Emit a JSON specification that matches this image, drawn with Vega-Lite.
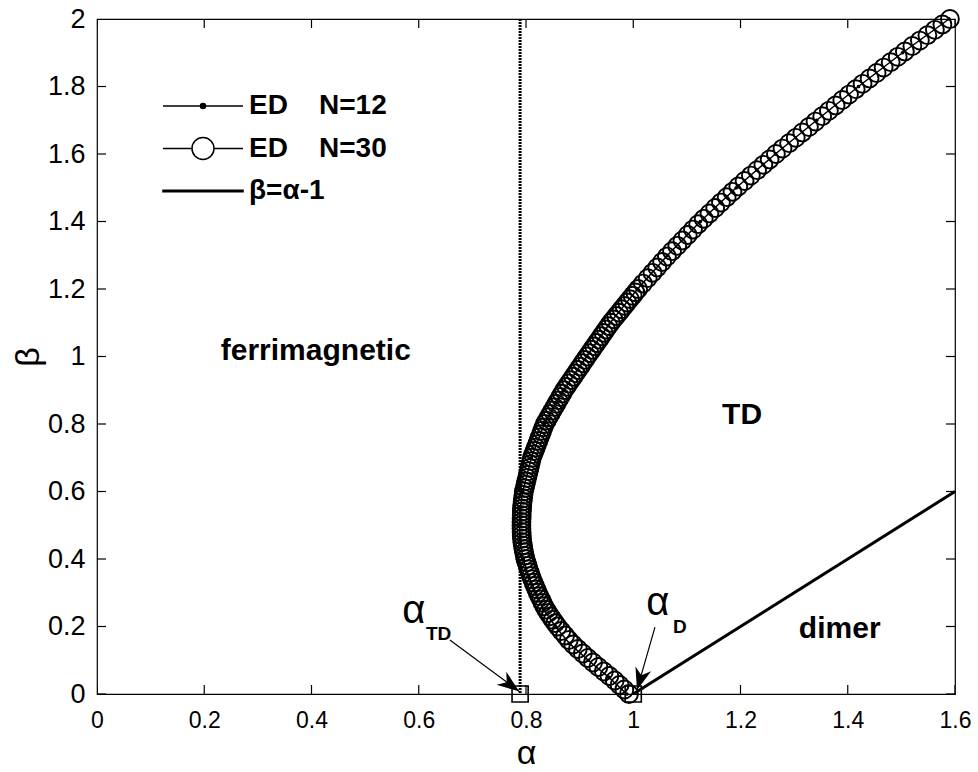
{
  "$schema": "https://vega.github.io/schema/vega-lite/v6.json",
  "width": 858,
  "height": 675,
  "autosize": {"type": "none"},
  "padding": {"left": 97, "top": 19, "right": 23, "bottom": 78},
  "background": "white",
  "config": {
    "view": {"stroke": "black", "strokeWidth": 1.2},
    "axis": {"grid": false, "ticks": false, "domain": false, "labelColor": "black", "titleColor": "black", "labelFont": "Liberation Sans", "titleFont": "Liberation Sans"},
    "text": {"font": "Liberation Sans"}
  },
  "datasets": {
    "ed30": [
      {"a":0.992,"b":0.00},{"a":0.9834,"b":0.0133},{"a":0.9745,"b":0.0267},{"a":0.9655,"b":0.04},{"a":0.9555,"b":0.0533},{"a":0.9452,"b":0.0667},{"a":0.935,"b":0.08},{"a":0.925,"b":0.0933},{"a":0.9153,"b":0.1067},{"a":0.906,"b":0.12},{"a":0.8967,"b":0.1333},{"a":0.8879,"b":0.1467},{"a":0.8798,"b":0.16},{"a":0.8729,"b":0.1733},{"a":0.8659,"b":0.1867},{"a":0.859,"b":0.20},
      {"a":0.8545,"b":0.21},{"a":0.850,"b":0.22},{"a":0.8457,"b":0.23},{"a":0.8414,"b":0.24},{"a":0.8377,"b":0.25},{"a":0.834,"b":0.26},{"a":0.831,"b":0.27},{"a":0.828,"b":0.28},{"a":0.825,"b":0.29},{"a":0.822,"b":0.30},{"a":0.8194,"b":0.31},{"a":0.8168,"b":0.32},{"a":0.8142,"b":0.33},{"a":0.8116,"b":0.34},{"a":0.8093,"b":0.35},{"a":0.807,"b":0.36},{"a":0.805,"b":0.37},{"a":0.803,"b":0.38},{"a":0.801,"b":0.39},{"a":0.799,"b":0.40},{"a":0.7977,"b":0.41},{"a":0.7965,"b":0.42},{"a":0.7953,"b":0.43},{"a":0.7942,"b":0.44},{"a":0.7933,"b":0.45},{"a":0.7925,"b":0.46},{"a":0.7921,"b":0.47},{"a":0.7918,"b":0.48},{"a":0.7916,"b":0.49},
      {"a":0.7915,"b":0.50},{"a":0.7916,"b":0.51},{"a":0.7918,"b":0.52},{"a":0.792,"b":0.53},{"a":0.7922,"b":0.54},{"a":0.7926,"b":0.55},{"a":0.793,"b":0.56},{"a":0.7937,"b":0.57},{"a":0.7945,"b":0.58},{"a":0.7952,"b":0.59},{"a":0.796,"b":0.60},{"a":0.7975,"b":0.61},{"a":0.799,"b":0.62},{"a":0.8005,"b":0.63},{"a":0.802,"b":0.64},{"a":0.8035,"b":0.65},{"a":0.805,"b":0.66},{"a":0.8065,"b":0.67},{"a":0.808,"b":0.68},{"a":0.8095,"b":0.69},{"a":0.811,"b":0.70},{"a":0.8134,"b":0.71},{"a":0.8158,"b":0.72},{"a":0.8182,"b":0.73},{"a":0.8206,"b":0.74},{"a":0.823,"b":0.75},{"a":0.8254,"b":0.76},{"a":0.8278,"b":0.77},{"a":0.8302,"b":0.78},{"a":0.8326,"b":0.79},{"a":0.835,"b":0.80},
      {"a":0.8386,"b":0.81},{"a":0.8422,"b":0.82},{"a":0.8458,"b":0.83},{"a":0.8494,"b":0.84},{"a":0.853,"b":0.85},{"a":0.8566,"b":0.86},{"a":0.8602,"b":0.87},{"a":0.8638,"b":0.88},{"a":0.8674,"b":0.89},{"a":0.871,"b":0.90},{"a":0.8753,"b":0.91},{"a":0.8796,"b":0.92},{"a":0.8839,"b":0.93},{"a":0.8882,"b":0.94},{"a":0.8925,"b":0.95},{"a":0.8968,"b":0.96},{"a":0.9011,"b":0.97},{"a":0.9054,"b":0.98},{"a":0.9097,"b":0.99},{"a":0.914,"b":1.00},
      {"a":0.9184,"b":1.01},{"a":0.9228,"b":1.02},{"a":0.9272,"b":1.03},{"a":0.9316,"b":1.04},{"a":0.936,"b":1.05},{"a":0.9404,"b":1.06},{"a":0.9448,"b":1.07},{"a":0.9492,"b":1.08},{"a":0.9536,"b":1.09},{"a":0.958,"b":1.10},{"a":0.9631,"b":1.11},{"a":0.9682,"b":1.12},{"a":0.9733,"b":1.13},{"a":0.9784,"b":1.14},{"a":0.9835,"b":1.15},{"a":0.9886,"b":1.16},{"a":0.9937,"b":1.17},{"a":0.9988,"b":1.18},{"a":1.0039,"b":1.19},
      {"a":1.009,"b":1.200},{"a":1.018,"b":1.216},{"a":1.0269,"b":1.232},{"a":1.0359,"b":1.248},{"a":1.0448,"b":1.264},{"a":1.0538,"b":1.280},{"a":1.0628,"b":1.296},{"a":1.0723,"b":1.312},{"a":1.0821,"b":1.328},{"a":1.0918,"b":1.344},{"a":1.1016,"b":1.360},{"a":1.1114,"b":1.376},{"a":1.1211,"b":1.392},{"a":1.1314,"b":1.408},{"a":1.1421,"b":1.424},{"a":1.1528,"b":1.440},{"a":1.1635,"b":1.456},{"a":1.1742,"b":1.472},{"a":1.185,"b":1.488},{"a":1.1959,"b":1.504},{"a":1.2076,"b":1.520},{"a":1.2193,"b":1.536},{"a":1.231,"b":1.552},{"a":1.2426,"b":1.568},{"a":1.2543,"b":1.584},{"a":1.266,"b":1.600},{"a":1.2783,"b":1.616},{"a":1.2906,"b":1.632},{"a":1.303,"b":1.648},{"a":1.3153,"b":1.664},{"a":1.3276,"b":1.680},{"a":1.3399,"b":1.696},{"a":1.3524,"b":1.712},{"a":1.3648,"b":1.728},{"a":1.3773,"b":1.744},{"a":1.3898,"b":1.760},{"a":1.4023,"b":1.776},{"a":1.4148,"b":1.792},{"a":1.4276,"b":1.808},{"a":1.4407,"b":1.824},{"a":1.4538,"b":1.840},{"a":1.4669,"b":1.856},{"a":1.48,"b":1.872},{"a":1.4932,"b":1.888},{"a":1.5065,"b":1.904},{"a":1.5205,"b":1.920},{"a":1.5345,"b":1.936},{"a":1.5485,"b":1.952},{"a":1.5625,"b":1.968},{"a":1.5765,"b":1.984},{"a":1.5905,"b":2.000}
    ],
    "ed12": [
      {"a":0.988,"b":0.0},{"a":0.954,"b":0.05},{"a":0.916,"b":0.1},{"a":0.881,"b":0.15},{"a":0.855,"b":0.2},{"a":0.833,"b":0.25},{"a":0.818,"b":0.3},{"a":0.805,"b":0.35},{"a":0.795,"b":0.4},{"a":0.789,"b":0.45},{"a":0.788,"b":0.5},{"a":0.789,"b":0.55},{"a":0.794,"b":0.6},{"a":0.810,"b":0.7},{"a":0.834,"b":0.8},{"a":0.870,"b":0.9},{"a":0.913,"b":1.0},{"a":0.957,"b":1.1},{"a":1.008,"b":1.2},{"a":1.064,"b":1.3},{"a":1.125,"b":1.4},{"a":1.192,"b":1.5},{"a":1.265,"b":1.6},{"a":1.342,"b":1.7},{"a":1.420,"b":1.8},{"a":1.502,"b":1.9},{"a":1.589,"b":2.0}
    ],
    "xticks": [{"a":0},{"a":0.2},{"a":0.4},{"a":0.6},{"a":0.8},{"a":1.0},{"a":1.2},{"a":1.4},{"a":1.6}],
    "yticks": [{"b":0},{"b":0.2},{"b":0.4},{"b":0.6},{"b":0.8},{"b":1.0},{"b":1.2},{"b":1.4},{"b":1.6},{"b":1.8},{"b":2.0}],
    "dimerline": [{"a":1.0,"b":0.0},{"a":1.6,"b":0.6}],
    "vline": [{"a":0.789}],
    "crit": [{"a":0.789,"b":0.0},{"a":1.0,"b":0.0}],
    "arrows": [{"a":0.658,"b":0.16,"a2":0.787,"b2":0.008},{"a":1.0405,"b":0.198,"a2":1.007,"b2":0.012}],
    "headTD": [{"a":0.787,"b":0.008}],
    "headD": [{"a":1.007,"b":0.012}],
    "regions": [{"a":0.408,"b":0.99,"t":"ferrimagnetic"},{"a":1.203,"b":0.80,"t":"TD"},{"a":1.385,"b":0.165,"t":"dimer"}],
    "alphas": [{"a":0.591,"b":0.211,"t":"α"},{"a":1.046,"b":0.234,"t":"α"}],
    "subs": [{"a":0.637,"b":0.16,"t":"TD"},{"a":1.087,"b":0.181,"t":"D"}],
    "leg": [{"s":"ED\u00a0\u00a0\u00a0\u00a0N=12"},{"s":"ED\u00a0\u00a0\u00a0\u00a0N=30"},{"s":"β=α-1"}]
  },
  "layer": [
    {
      "data": {"name": "xticks"},
      "mark": {"type": "tick", "orient": "vertical", "size": 18, "thickness": 1.2, "color": "black", "opacity": 1, "clip": true},
      "encoding": {
        "x": {"field": "a", "type": "quantitative", "scale": {"domain": [0, 1.6], "nice": false, "zero": false},
              "axis": {"orient": "bottom", "values": [0,0.2,0.4,0.6,0.8,1,1.2,1.4,1.6], "labelPadding": 15, "labelFontSize": 23, "labelFlush": false, "labelOverlap": false, "labelExpr": "format(datum.value, '.1~f')", "title": "α", "titleFontSize": 34, "titleFontWeight": "normal", "titlePadding": 4}},
        "y": {"datum": 0, "type": "quantitative", "scale": {"domain": [0, 2], "nice": false, "zero": false},
              "axis": {"orient": "left", "values": [0,0.2,0.4,0.6,0.8,1,1.2,1.4,1.6,1.8,2], "labelPadding": 12, "labelFontSize": 27, "labelFlush": false, "labelOverlap": false, "labelExpr": "format(datum.value, '.1~f')", "title": "β", "titleFontSize": 34, "titleFontWeight": "normal", "titlePadding": 2}}
      }
    },
    {
      "data": {"name": "xticks"},
      "mark": {"type": "tick", "orient": "vertical", "size": 18, "thickness": 1.2, "color": "black", "opacity": 1, "clip": true},
      "encoding": {
        "x": {"field": "a", "type": "quantitative"},
        "y": {"datum": 2, "type": "quantitative"}
      }
    },
    {
      "data": {"name": "yticks"},
      "mark": {"type": "tick", "orient": "horizontal", "size": 18, "thickness": 1.2, "color": "black", "opacity": 1, "clip": true},
      "encoding": {
        "y": {"field": "b", "type": "quantitative"},
        "x": {"datum": 0, "type": "quantitative"}
      }
    },
    {
      "data": {"name": "yticks"},
      "mark": {"type": "tick", "orient": "horizontal", "size": 18, "thickness": 1.2, "color": "black", "opacity": 1, "clip": true},
      "encoding": {
        "y": {"field": "b", "type": "quantitative"},
        "x": {"datum": 1.6, "type": "quantitative"}
      }
    },
    {
      "data": {"name": "ed12"},
      "mark": {"type": "line", "color": "black", "strokeWidth": 1.5},
      "encoding": {
        "x": {"field": "a", "type": "quantitative"},
        "y": {"field": "b", "type": "quantitative"},
        "order": {"field": "b", "type": "quantitative"}
      }
    },
    {
      "data": {"name": "ed12"},
      "mark": {"type": "point", "filled": true, "color": "black", "size": 14, "opacity": 1},
      "encoding": {
        "x": {"field": "a", "type": "quantitative"},
        "y": {"field": "b", "type": "quantitative"}
      }
    },
    {
      "data": {"name": "ed30"},
      "mark": {"type": "point", "filled": false, "color": "black", "size": 320, "strokeWidth": 1.9, "opacity": 1},
      "encoding": {
        "x": {"field": "a", "type": "quantitative"},
        "y": {"field": "b", "type": "quantitative"}
      }
    },
    {
      "data": {"name": "dimerline"},
      "mark": {"type": "line", "color": "black", "strokeWidth": 3},
      "encoding": {
        "x": {"field": "a", "type": "quantitative"},
        "y": {"field": "b", "type": "quantitative"}
      }
    },
    {
      "data": {"name": "vline"},
      "mark": {"type": "rule", "color": "black", "strokeWidth": 3, "strokeDash": [2, 1]},
      "encoding": {
        "x": {"field": "a", "type": "quantitative"}
      }
    },
    {
      "data": {"name": "crit"},
      "mark": {"type": "point", "shape": "square", "filled": false, "color": "black", "size": 260, "strokeWidth": 1.6, "opacity": 1},
      "encoding": {
        "x": {"field": "a", "type": "quantitative"},
        "y": {"field": "b", "type": "quantitative"}
      }
    },
    {
      "data": {"name": "arrows"},
      "mark": {"type": "rule", "color": "black", "strokeWidth": 1.2},
      "encoding": {
        "x": {"field": "a", "type": "quantitative"},
        "y": {"field": "b", "type": "quantitative"},
        "x2": {"field": "a2"},
        "y2": {"field": "b2"}
      }
    },
    {
      "data": {"name": "headTD"},
      "mark": {"type": "point", "shape": "M0,0L0.75,2L0,1.4L-0.75,2Z", "filled": true, "color": "black", "size": 480, "angle": 126.5, "opacity": 1},
      "encoding": {
        "x": {"field": "a", "type": "quantitative"},
        "y": {"field": "b", "type": "quantitative"}
      }
    },
    {
      "data": {"name": "headD"},
      "mark": {"type": "point", "shape": "M0,0L0.75,2L0,1.4L-0.75,2Z", "filled": true, "color": "black", "size": 480, "angle": 196.7, "opacity": 1},
      "encoding": {
        "x": {"field": "a", "type": "quantitative"},
        "y": {"field": "b", "type": "quantitative"}
      }
    },
    {
      "data": {"name": "regions"},
      "mark": {"type": "text", "font": "Liberation Sans", "fontSize": 30, "fontWeight": "bold", "color": "black", "align": "center", "baseline": "alphabetic"},
      "encoding": {
        "x": {"field": "a", "type": "quantitative"},
        "y": {"field": "b", "type": "quantitative"},
        "text": {"field": "t"}
      }
    },
    {
      "data": {"name": "alphas"},
      "mark": {"type": "text", "font": "Liberation Sans", "fontSize": 40, "color": "black", "align": "center", "baseline": "alphabetic"},
      "encoding": {
        "x": {"field": "a", "type": "quantitative"},
        "y": {"field": "b", "type": "quantitative"},
        "text": {"field": "t"}
      }
    },
    {
      "data": {"name": "subs"},
      "mark": {"type": "text", "font": "Liberation Sans", "fontSize": 19, "fontWeight": "bold", "color": "black", "align": "center", "baseline": "alphabetic"},
      "encoding": {
        "x": {"field": "a", "type": "quantitative"},
        "y": {"field": "b", "type": "quantitative"},
        "text": {"field": "t"}
      }
    },
    {
      "data": {"name": "leg"},
      "mark": {"type": "point", "filled": true, "opacity": 0, "stroke": "black", "strokeWidth": 1.5},
      "encoding": {
        "shape": {"field": "s", "type": "nominal",
          "scale": {"domain": ["ED\u00a0\u00a0\u00a0\u00a0N=12", "ED\u00a0\u00a0\u00a0\u00a0N=30", "β=α-1"],
                    "range": ["M-4,0L4,0M-0.25,0A0.25,0.25,0,1,0,0.25,0A0.25,0.25,0,1,0,-0.25,0Z", "M-4,0L-1.1,0M1.1,0L4,0M-1.1,0A1.1,1.1,0,1,0,1.1,0A1.1,1.1,0,1,0,-1.1,0Z", "M-4,-0.08L4,-0.08L4,0.08L-4,0.08Z"]},
          "legend": {"orient": "none", "legendX": 92, "legendY": 73, "title": null, "symbolSize": 400, "symbolStrokeColor": "black", "symbolStrokeWidth": 1.5, "symbolOpacity": 1, "labelFont": "Liberation Sans", "labelFontSize": 28, "labelFontWeight": "bold", "labelColor": "black", "labelOffset": 32, "rowPadding": 14.5, "labelLimit": 400, "padding": 0,
                     "encode": {"symbols": {"update": {"stroke": {"value": "black"}, "strokeWidth": {"value": 1.5}, "opacity": {"value": 1}, "strokeOpacity": {"value": 1}}}}}},
        "fill": {"field": "s", "type": "nominal",
          "scale": {"domain": ["ED\u00a0\u00a0\u00a0\u00a0N=12", "ED\u00a0\u00a0\u00a0\u00a0N=30", "β=α-1"], "range": ["black", "white", "black"]},
          "legend": {"orient": "none", "legendX": 92, "legendY": 73, "title": null, "symbolSize": 400, "symbolStrokeColor": "black", "symbolStrokeWidth": 1.5, "symbolOpacity": 1, "labelFont": "Liberation Sans", "labelFontSize": 28, "labelFontWeight": "bold", "labelColor": "black", "labelOffset": 32, "rowPadding": 14.5, "labelLimit": 400, "padding": 0,
                     "encode": {"symbols": {"update": {"stroke": {"value": "black"}, "strokeWidth": {"value": 1.5}, "opacity": {"value": 1}, "strokeOpacity": {"value": 1}}}}}}
      }
    }
  ]
}
